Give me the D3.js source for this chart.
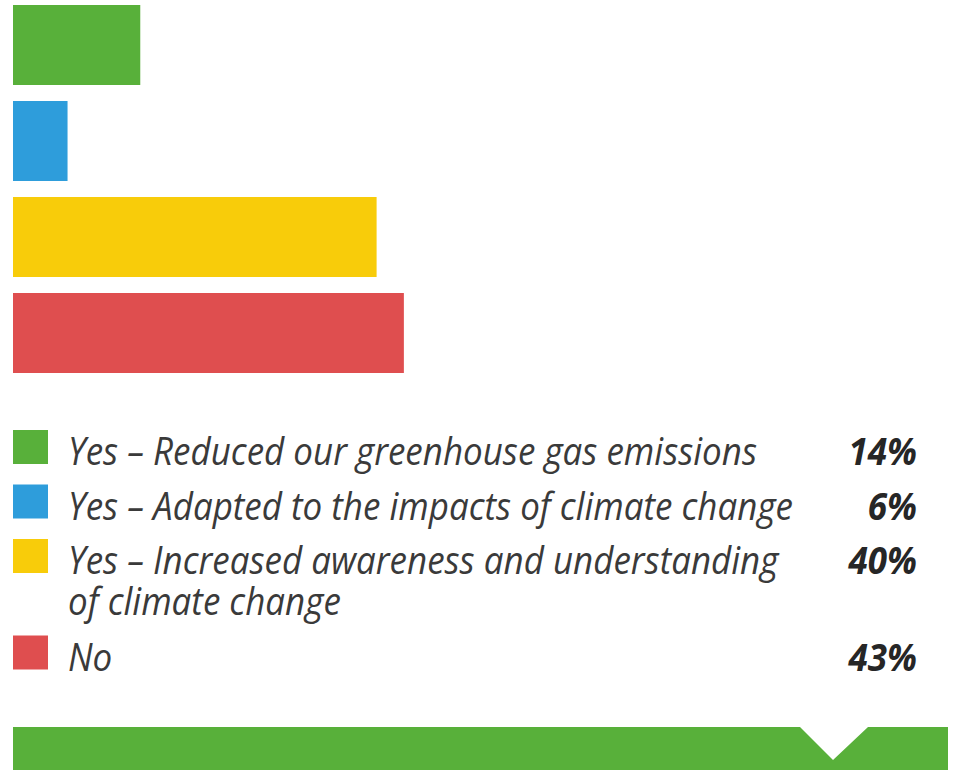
<!DOCTYPE html>
<html>
<head>
<meta charset="utf-8">
<script src="https://cdn.jsdelivr.net/npm/d3@7"></script>
<style>
  body { margin: 0; background: #fff; }
  svg { display: block; }
</style>
</head>
<body>
<script>
var categories = [
    "Yes \u2013 Reduced our greenhouse gas emissions",
    "Yes \u2013 Adapted to the impacts of climate change",
    "Yes \u2013 Increased awareness and understanding of climate change",
    "No"
];
// how the legend labels are broken into lines
var labelLines = [
    ["Yes \u2013 Reduced our greenhouse gas emissions"],
    ["Yes \u2013 Adapted to the impacts of climate change"],
    ["Yes \u2013 Increased awareness and understanding", "of climate change"],
    ["No"]
];
var values = [14, 6, 40, 43];  // percent
var colors = ["#58b03a", "#2e9ddb", "#f8cc0a", "#df4e4f"];

var width = 953;
var height = 770;

var svg = d3.select("body").append("svg")
            .attr("width", width)
            .attr("height", height);

// scales
var x = d3.scaleLinear()
            .domain([0, 100])
            .range([0, 909]);

var y = d3.scaleBand()
            .domain(categories)
            .range([5, 373])
            .paddingInner(1 / 6)
            .paddingOuter(0);

var color = d3.scaleOrdinal(colors).domain(categories);

var left = 13;

// bars
svg.selectAll(".bar")
    .data(values)
    .enter().append("rect")
    .attr("class", "bar")
    .attr("x", left)
    .attr("y", function(d, i) { return y(categories[i]); })
    .attr("width", function(d) { return x(d); })
    .attr("height", y.bandwidth())
    .attr("fill", function(d, i) { return color(categories[i]); });

// legend rows
var rowTops = [];
var rowY = 430;
labelLines.forEach(function(lines) {
    rowTops.push(rowY);
    rowY += 54.5 + (lines.length - 1) * 42;
});

var squeeze = 0.92;  // the type in the picture is a bit narrow

var legend = svg.selectAll(".legend")
    .data(categories)
    .enter().append("g")
    .attr("class", "legend")
    .attr("transform", function(d, i) { return "translate(0," + rowTops[i] + ")"; });

legend.append("rect")
    .attr("x", left)
    .attr("y", 0)
    .attr("width", 35)
    .attr("height", 34)
    .attr("fill", function(d) { return color(d); });

legend.each(function(d, i) {
    var g = d3.select(this);
    labelLines[i].forEach(function(line, j) {
        g.append("text")
            .attr("transform", "translate(68," + (35 + j * 41) + ") scale(" + squeeze + ",1)")
            .style("font-family", "'Open Sans', sans-serif")
            .style("font-style", "italic")
            .style("font-size", "38px")
            .attr("fill", "#3a3a3a")
            .text(line);
    });
    g.append("text")
        .attr("transform", "translate(917,35) scale(" + squeeze + ",1)")
        .attr("text-anchor", "end")
        .style("font-family", "'Open Sans', sans-serif")
        .style("font-style", "italic")
        .style("font-weight", "bold")
        .style("font-size", "38px")
        .attr("fill", "#262626")
        .text(values[i] + "%");
});

// green banner with a notch at the bottom
var notch = 833;
svg.append("path")
    .attr("d", d3.line()([
        [left, 727], [800, 727], [notch, 760], [868, 727],
        [948, 727], [948, height], [left, height]
    ]) + "Z")
    .attr("fill", colors[0]);
</script>
</body>
</html>
